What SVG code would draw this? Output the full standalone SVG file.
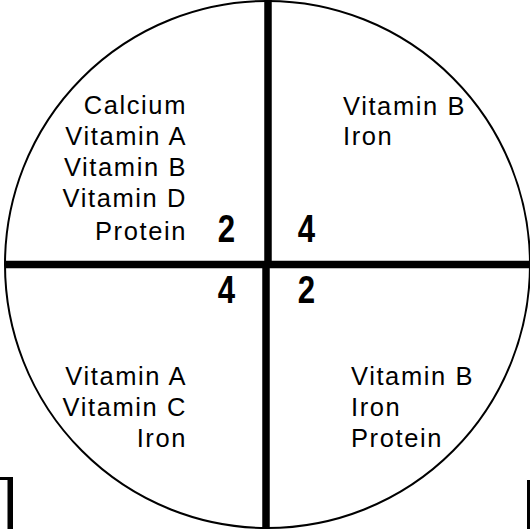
<svg xmlns="http://www.w3.org/2000/svg" width="530" height="529" viewBox="0 0 530 529">
  <style>
    .lbl { font-family: "Liberation Sans", Arial, sans-serif; font-size: 25.5px; letter-spacing: 1.6px; fill: #000; }
    .num { font-family: "Liberation Sans", Arial, sans-serif; font-size: 39px; font-weight: bold; fill: #000; text-anchor: middle; }
    .end { text-anchor: end; }
  </style>
  <rect x="0" y="0" width="530" height="529" fill="#fff"/>
  <g id="circle">
    <ellipse cx="267.5" cy="264.5" rx="262.5" ry="263.5" fill="none" stroke="#000" stroke-width="2"/>
  </g>
  <g id="connectors" stroke="#000" fill="none">
    <line x1="5" y1="264.5" x2="530" y2="264.5" stroke-width="7.5"/>
    <line x1="268" y1="0" x2="268" y2="265" stroke-width="7.5"/>
    <line x1="266" y1="264" x2="266" y2="529" stroke-width="7.5"/>
  </g>
  <g id="corner-marks" fill="#000">
    <rect x="0" y="477" width="13" height="3"/>
    <rect x="7.5" y="477" width="5.5" height="52"/>
    <rect x="527" y="480" width="3" height="49"/>
  </g>
  <g id="q-top-left">
    <text class="lbl end" x="187" y="114">Calcium</text>
    <text class="lbl end" x="187" y="145">Vitamin A</text>
    <text class="lbl end" x="187" y="176">Vitamin B</text>
    <text class="lbl end" x="187" y="207">Vitamin D</text>
    <text class="lbl end" x="187" y="240">Protein</text>
    <text class="num" transform="translate(226.5,242) scale(0.8,1)">2</text>
  </g>
  <g id="q-top-right">
    <text class="lbl" x="343" y="115">Vitamin B</text>
    <text class="lbl" x="343" y="145">Iron</text>
    <text class="num" transform="translate(306.5,242) scale(0.8,1)">4</text>
  </g>
  <g id="q-bottom-left">
    <text class="lbl end" x="187" y="385">Vitamin A</text>
    <text class="lbl end" x="187" y="416">Vitamin C</text>
    <text class="lbl end" x="187" y="447">Iron</text>
    <text class="num" transform="translate(226.5,303) scale(0.8,1)">4</text>
  </g>
  <g id="q-bottom-right">
    <text class="lbl" x="351" y="385">Vitamin B</text>
    <text class="lbl" x="351" y="416">Iron</text>
    <text class="lbl" x="351" y="447">Protein</text>
    <text class="num" transform="translate(306.5,303) scale(0.8,1)">2</text>
  </g>
</svg>
